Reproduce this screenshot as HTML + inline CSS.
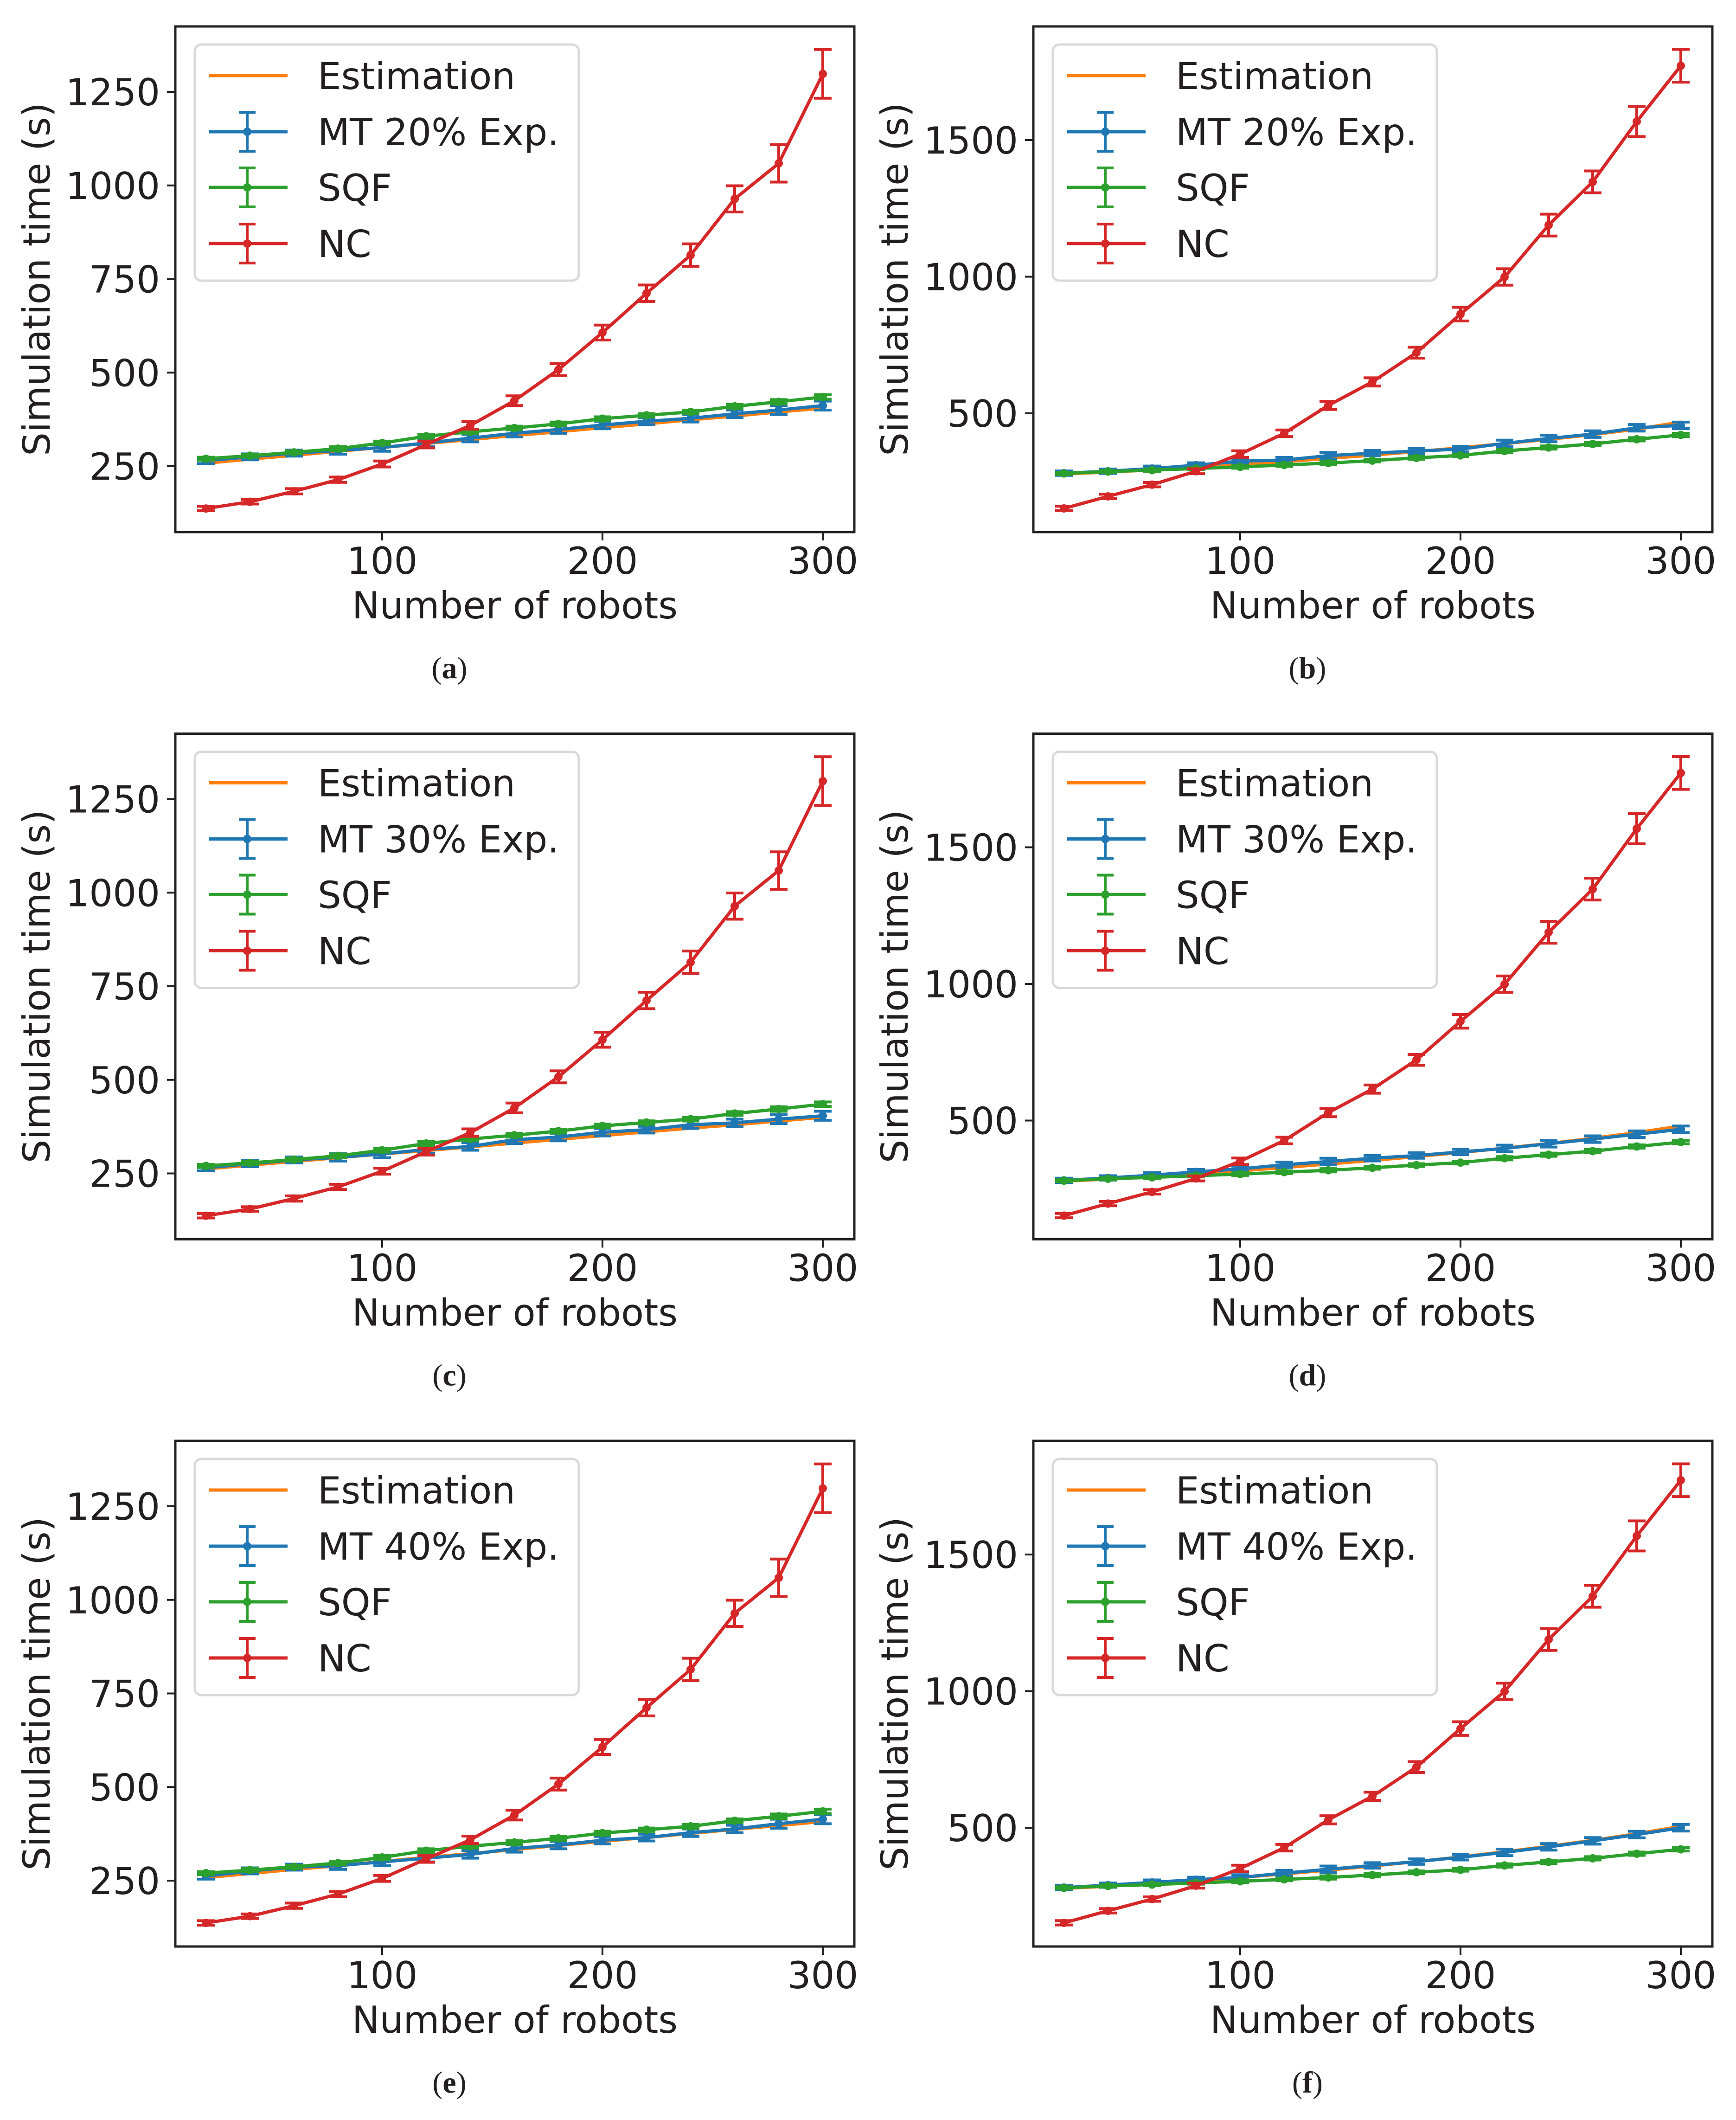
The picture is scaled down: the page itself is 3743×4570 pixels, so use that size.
<!DOCTYPE html>
<html><head><meta charset="utf-8"><style>
html,body{margin:0;padding:0;background:#fff}
svg text{font-family:"DejaVu Sans","Liberation Sans",sans-serif}
svg text.cap{font-family:"Liberation Serif",serif}
</style></head><body>
<svg id="fig" xmlns="http://www.w3.org/2000/svg" width="3743" height="4565" viewBox="0 0 3743 4565"></svg>
<script>
const xValues = [20,40,60,80,100,120,140,160,180,200,220,240,260,280,300];
const xTicks = [100,200,300];
const yTicksA = [250,500,750,1000,1250];
const yTicksB = [500,1000,1500];
const panelLabels = ['a','b','c','d','e','f'];
const mtLabels = ['MT 20% Exp.','MT 20% Exp.','MT 30% Exp.','MT 30% Exp.','MT 40% Exp.','MT 40% Exp.'];

const ncA = [137,155,183,214,256,308,359,425,508,607,712,814,964,1059,1298];
const ncAErr = [6,6,7,7,8,9,10,13,16,20,22,30,35,50,65];
const sqfA = [270,278,287,297,312,330,342,352,363,377,386,395,410,422,435];
const mtA = [265,275,285,292,300,312,325,338,348,360,370,378,390,400,412];
const mtAErr = [8,8,8,10,10,10,10,10,10,10,9,10,10,12,12];
const estA = [258,269,279,290,300,311,321,332,342,353,363,374,384,395,405];
const mtC = [265,276,286,293,302,314,322,340,347,360,367,380,385,395,404];
const estC = [262,272,282,292,302,311,321,331,341,351,361,371,380,390,400];
const mtE = [262,276,286,290,300,310,320,336,345,358,365,378,388,402,414];
const estE = [258,269,280,290,301,312,322,333,344,355,365,376,387,397,408];

const ncB = [152,196,239,288,351,427,529,615,722,863,999,1189,1347,1568,1772];
const ncBErr = [8,8,8,9,12,12,15,15,20,25,30,40,40,55,60];
const sqfB = [280,287,292,298,304,311,318,327,337,346,362,375,388,405,421];
const mtB = [281,288,298,310,325,329,345,354,362,369,390,408,424,447,456];
const mtBErr = [8,8,9,9,10,10,12,10,10,10,12,12,12,12,12];
const estB = [278,285,293,302,312,323,335,347,360,374,389,405,422,442,468];
const mtD = [281,290,300,312,323,338,350,362,372,385,398,415,432,450,468];
const estD = [278,286,295,305,316,328,341,354,368,383,399,416,435,456,480];
const mtF = [281,290,300,310,318,334,348,362,376,392,410,430,452,475,500];
const estF = [278,286,296,306,318,331,345,360,376,393,412,432,454,478,505];

const panels = [
 {type:'A',nc:ncA,ncErr:ncAErr,sqf:sqfA,mt:mtA,mtErr:mtAErr,est:estA},
 {type:'B',nc:ncB,ncErr:ncBErr,sqf:sqfB,mt:mtB,mtErr:mtBErr,est:estB},
 {type:'A',nc:ncA,ncErr:ncAErr,sqf:sqfA,mt:mtC,mtErr:mtAErr,est:estC},
 {type:'B',nc:ncB,ncErr:ncBErr,sqf:sqfB,mt:mtD,mtErr:mtBErr,est:estD},
 {type:'A',nc:ncA,ncErr:ncAErr,sqf:sqfA,mt:mtE,mtErr:mtAErr,est:estE},
 {type:'B',nc:ncB,ncErr:ncBErr,sqf:sqfB,mt:mtF,mtErr:mtBErr,est:estF}
];
const C = {est:'#ff7f0e',mt:'#1f77b4',sqf:'#2ca02c',nc:'#d62728'};
const NS='http://www.w3.org/2000/svg';
const fig=document.getElementById('fig');
function mk(tag,parent,attrs){const e=document.createElementNS(NS,tag);for(const k in attrs)e.setAttribute(k,attrs[k]);parent.appendChild(e);return e;}

panels.forEach((p,i)=>{
  const ox=(i%2)*1850, oy=Math.floor(i/2)*1524.5;
  const g=mk('g',fig,{transform:`translate(${ox},${oy})`});
  
  
  const L=378,R=1842,T=57,B=1147;
  const xs=v=>824+(v-100)*4.75;
  const ys=p.type==='A'?(v=>1005-(v-250)*0.807):(v=>891-(v-500)*0.589);
  const clipId='clip'+i;
  const cp=mk('clipPath',g,{id:clipId});mk('rect',cp,{x:L,y:T,width:R-L,height:B-T});
  const plot=mk('g',g,{'clip-path':`url(#${clipId})`});
  
  
  function series(vals,err,color,name,marker){
    const sg=mk('g',plot,{});
    
    
    if(err){vals.forEach((v,k)=>{const x=xs(xValues[k]);const y1=ys(v-err[k]),y2=ys(v+err[k]);
      const eb=mk('path',sg,{d:`M${x},${y1}V${y2}M${x-19},${y1}H${x+19}M${x-19},${y2}H${x+19}`,stroke:color,'stroke-width':6,fill:'none'});
      
      });}
    const ln=mk('polyline',sg,{points:vals.map((v,k)=>xs(xValues[k])+','+ys(v)).join(' '),fill:'none',stroke:color,'stroke-width':7,'stroke-linejoin':'round'});
    
    
    if(marker){vals.forEach((v,k)=>{const c=mk('circle',sg,{cx:xs(xValues[k]),cy:ys(v),r:9,fill:color});
      
      });}
  }
  series(p.est,null,C.est,'estimation',false);
  series(p.mt,p.mtErr,C.mt,'mt',true);
  series(p.sqf,p.mtErr.map(e=>e*0.5),C.sqf,'sqf',true);
  series(p.nc,p.ncErr,C.nc,'nc',true);
  const frame=mk('rect',g,{x:L,y:T,width:R-L,height:B-T,fill:'none',stroke:'#231f20','stroke-width':5});
  
  
  xTicks.forEach(t=>{const x=xs(t);
    mk('line',g,{x1:x,y1:B,x2:x,y2:B+18,stroke:'#231f20','stroke-width':4});
    const tx=mk('text',g,{x:x,y:1237,'font-size':80,'text-anchor':'middle',fill:'#231f20'});tx.textContent=t;
    
    });
  (p.type==='A'?yTicksA:yTicksB).forEach(t=>{const y=ys(t);
    mk('line',g,{x1:L-18,y1:y,x2:L,y2:y,stroke:'#231f20','stroke-width':4});
    const tx=mk('text',g,{x:345,y:y+29,'font-size':80,'text-anchor':'end',fill:'#231f20'});tx.textContent=t;
    
    });
  const xl=mk('text',g,{x:(L+R)/2,y:1333,'font-size':80,'text-anchor':'middle',fill:'#231f20'});xl.textContent='Number of robots';
  
  
  const yl=mk('text',g,{x:0,y:0,'font-size':80,'text-anchor':'middle',fill:'#231f20',transform:`translate(107,${(T+B)/2}) rotate(-90)`});yl.textContent='Simulation time (s)';
  
  
  const lg=mk('g',g,{});
  
  
  mk('rect',lg,{x:420,y:96,width:828,height:509,rx:14,fill:'#fff','fill-opacity':0.8,stroke:'#d9d9d9','stroke-width':5});
  const entries=[['Estimation',C.est,false],[mtLabels[i],C.mt,true],['SQF',C.sqf,true],['NC',C.nc,true]];
  const rowsY=[163,284,404,525];
  entries.forEach((e,k)=>{const y=rowsY[k];
    const eg=mk('g',lg,{});
    
    
    mk('line',eg,{x1:451,y1:y,x2:620,y2:y,stroke:e[1],'stroke-width':7});
    if(e[2]){mk('path',eg,{d:`M533,${y-42}V${y+42}M515,${y-42}H551M515,${y+42}H551`,stroke:e[1],'stroke-width':6,fill:'none'});
      mk('circle',eg,{cx:533,cy:y,r:9,fill:e[1]});}
    const t=mk('text',eg,{x:685,y:y+29,'font-size':80,fill:'#231f20'});t.textContent=e[0];});
  const cap=mk('text',g,{x:969,y:1462,'font-size':66,'text-anchor':'middle',fill:'#231f20','class':'cap'});
  cap.innerHTML='(<tspan font-weight="bold">'+panelLabels[i]+'</tspan>)';
  
  
});
</script>
</body></html>
